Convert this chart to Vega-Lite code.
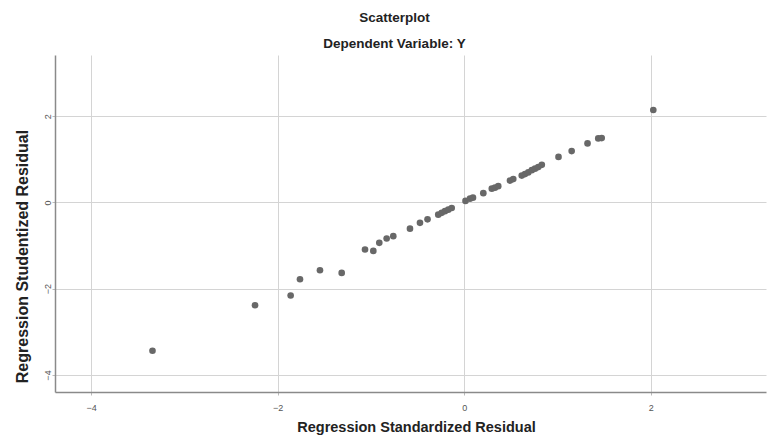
{
  "$schema": "https://vega.github.io/schema/vega-lite/v6.json",
  "width": 711,
  "height": 337,
  "autosize": {"type": "none"},
  "padding": {"left": 55, "top": 55, "right": 1, "bottom": 43},
  "background": "white",
  "title": {
    "text": "Scatterplot",
    "subtitle": "Dependent Variable: Y",
    "anchor": "middle",
    "dx": -16,
    "offset": 5,
    "font": "Liberation Sans",
    "fontSize": 13.5,
    "fontWeight": "bold",
    "color": "#222222",
    "subtitleFont": "Liberation Sans",
    "subtitleFontSize": 13.5,
    "subtitleFontWeight": "bold",
    "subtitleColor": "#222222",
    "subtitlePadding": 12
  },
  "config": {
    "view": {"stroke": null},
    "axis": {
      "grid": true,
      "gridColor": "#d4d4d4",
      "gridWidth": 1,
      "domainColor": "#8a8a8a",
      "domainWidth": 1.5,
      "tickColor": "#bbbbbb",
      "tickSize": 3,
      "labelFont": "Liberation Sans",
      "labelFontSize": 9,
      "labelColor": "#555555",
      "titleFont": "Liberation Sans",
      "titleFontSize": 14.5,
      "titleFontWeight": "bold",
      "titleColor": "#222222"
    }
  },
  "data": {
    "values": [
      {"std": -3.341, "stud": -3.439},
      {"std": -2.242, "stud": -2.383},
      {"std": -1.860, "stud": -2.158},
      {"std": -1.760, "stud": -1.780},
      {"std": -1.546, "stud": -1.571},
      {"std": -1.313, "stud": -1.633},
      {"std": -1.063, "stud": -1.090},
      {"std": -0.974, "stud": -1.123},
      {"std": -0.910, "stud": -0.937},
      {"std": -0.831, "stud": -0.835},
      {"std": -0.760, "stud": -0.782},
      {"std": -0.581, "stud": -0.608},
      {"std": -0.474, "stud": -0.473},
      {"std": -0.393, "stud": -0.392},
      {"std": -0.278, "stud": -0.283},
      {"std": -0.241, "stud": -0.241},
      {"std": -0.206, "stud": -0.202},
      {"std": -0.170, "stud": -0.167},
      {"std": -0.134, "stud": -0.128},
      {"std": 0.014, "stud": 0.035},
      {"std": 0.062, "stud": 0.088},
      {"std": 0.094, "stud": 0.111},
      {"std": 0.205, "stud": 0.216},
      {"std": 0.296, "stud": 0.320},
      {"std": 0.330, "stud": 0.343},
      {"std": 0.365, "stud": 0.378},
      {"std": 0.491, "stud": 0.506},
      {"std": 0.526, "stud": 0.541},
      {"std": 0.617, "stud": 0.622},
      {"std": 0.652, "stud": 0.657},
      {"std": 0.687, "stud": 0.696},
      {"std": 0.725, "stud": 0.749},
      {"std": 0.759, "stud": 0.784},
      {"std": 0.794, "stud": 0.819},
      {"std": 0.832, "stud": 0.872},
      {"std": 1.011, "stud": 1.056},
      {"std": 1.152, "stud": 1.190},
      {"std": 1.322, "stud": 1.369},
      {"std": 1.437, "stud": 1.485},
      {"std": 1.474, "stud": 1.492},
      {"std": 2.027, "stud": 2.142}
    ]
  },
  "mark": {"type": "circle", "size": 44, "color": "#686868", "opacity": 1},
  "encoding": {
    "x": {
      "field": "std",
      "type": "quantitative",
      "scale": {"domain": [-4.386, 3.235], "nice": false, "zero": false},
      "axis": {
        "values": [-4, -2, 0, 2],
        "title": "Regression Standardized Residual",
        "titleX": 361,
        "titleY": 35,
        "titleBaseline": "middle",
        "titleAlign": "center",
        "labelPadding": 8
      }
    },
    "y": {
      "field": "stud",
      "type": "quantitative",
      "scale": {"domain": [-4.394, 3.418], "nice": false, "zero": false},
      "axis": {
        "values": [-4, -2, 0, 2],
        "title": "Regression Studentized Residual",
        "titleFontSize": 16,
        "titleX": -33,
        "titleY": 201,
        "titleAngle": 270,
        "titleBaseline": "middle",
        "titleAlign": "center",
        "labelAngle": 270,
        "labelAlign": "center",
        "labelBaseline": "bottom",
        "labelPadding": 0
      }
    }
  }
}
